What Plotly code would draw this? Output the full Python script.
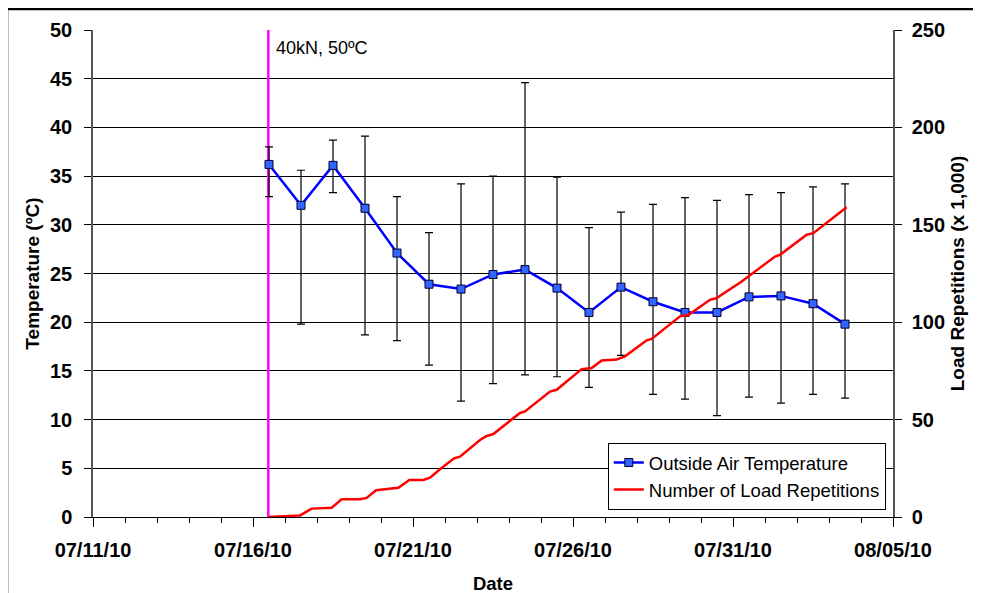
import plotly.graph_objects as go

# Daily outside air temperature (noon of each day)
temp_dates = [
    "2010-07-16 12:00", "2010-07-17 12:00", "2010-07-18 12:00", "2010-07-19 12:00",
    "2010-07-20 12:00", "2010-07-21 12:00", "2010-07-22 12:00", "2010-07-23 12:00",
    "2010-07-24 12:00", "2010-07-25 12:00", "2010-07-26 12:00", "2010-07-27 12:00",
    "2010-07-28 12:00", "2010-07-29 12:00", "2010-07-30 12:00", "2010-07-31 12:00",
    "2010-08-01 12:00", "2010-08-02 12:00", "2010-08-03 12:00",
]
temp_mean = [36.2, 32.0, 36.1, 31.7, 27.1, 23.9, 23.4, 24.9, 25.4, 23.5,
             21.0, 23.6, 22.1, 21.0, 21.0, 22.6, 22.7, 21.9, 19.8]
temp_max = [38.0, 35.6, 38.7, 39.1, 32.9, 29.2, 34.2, 35.0, 44.6, 34.9,
            29.7, 31.3, 32.1, 32.8, 32.5, 33.1, 33.3, 33.9, 34.2]
temp_min = [32.9, 19.8, 33.3, 18.7, 18.1, 15.6, 11.9, 13.7, 14.6, 14.4,
            13.3, 16.6, 12.6, 12.1, 10.4, 12.3, 11.7, 12.6, 12.2]

# Cumulative load repetitions (x 1,000)
load_dates = [
    "2010-07-16 11:30", "2010-07-17 11:15", "2010-07-17 20:00", "2010-07-18 11:00",
    "2010-07-18 18:30", "2010-07-19 08:15", "2010-07-19 13:15", "2010-07-19 20:15",
    "2010-07-20 13:00", "2010-07-20 21:15", "2010-07-21 07:45", "2010-07-21 12:45",
    "2010-07-21 20:15", "2010-07-22 06:45", "2010-07-22 11:15", "2010-07-23 02:15",
    "2010-07-23 07:15", "2010-07-23 12:15", "2010-07-24 08:15", "2010-07-24 12:00",
    "2010-07-25 06:45", "2010-07-25 11:45", "2010-07-26 06:30", "2010-07-26 14:00",
    "2010-07-26 21:30", "2010-07-27 08:45", "2010-07-27 15:00", "2010-07-28 07:15",
    "2010-07-28 11:00", "2010-07-29 08:15", "2010-07-29 14:30", "2010-07-30 06:45",
    "2010-07-30 11:45", "2010-07-31 04:00", "2010-07-31 06:30", "2010-08-01 07:30",
    "2010-08-01 11:15", "2010-08-02 07:15", "2010-08-02 12:15", "2010-08-03 13:15",
]
load_reps = [0.0, 0.8, 4.3, 4.8, 9.1, 9.1, 9.8, 13.7, 15.0, 19.0,
             19.0, 20.2, 24.5, 30.1, 31.0, 39.5, 41.6, 42.6, 53.4, 54.2,
             64.4, 65.3, 75.9, 76.5, 80.3, 80.8, 82.5, 90.7, 91.4, 103.0,
             103.7, 111.5, 112.4, 119.7, 120.9, 133.7, 134.6, 144.9, 145.7, 159.0]

test_start = "2010-07-16 11:30"
test_label = "40kN, 50ºC"

FONT = "Liberation Sans, Arial, sans-serif"
DAY_MS = 86400000

fig = go.Figure()

fig.add_trace(go.Scatter(
    x=temp_dates, y=temp_mean,
    name="Outside Air Temperature",
    mode="lines+markers",
    line=dict(color="#0000FF", width=2.5),
    marker=dict(symbol="square", size=8, color="#3366FF",
                line=dict(color="#000033", width=1)),
    error_y=dict(type="data", symmetric=False,
                 array=[hi - m for hi, m in zip(temp_max, temp_mean)],
                 arrayminus=[m - lo for lo, m in zip(temp_min, temp_mean)],
                 color="#000000", thickness=1.2, width=4),
    yaxis="y",
))

fig.add_trace(go.Scatter(
    x=load_dates, y=load_reps,
    name="Number of Load Repetitions",
    mode="lines",
    line=dict(color="#FF0000", width=2.5),
    yaxis="y2",
))

# test start marker
fig.add_shape(type="line", xref="x", yref="y", layer="between",
              x0=test_start, x1=test_start, y0=0, y1=50,
              line=dict(color="#FF00FF", width=2.5))
fig.add_annotation(x=test_start, y=48.2, xref="x", yref="y",
                   text=test_label, showarrow=False,
                   xanchor="left", xshift=6,
                   font=dict(family=FONT, size=18, color="#000000"))

# outer chart frame
fig.add_shape(type="rect", xref="paper", yref="paper",
              x0=-0.1075, x1=1.15, y0=-0.25, y1=1.043,
              line=dict(color="#000000", width=2.5))

fig.update_layout(
    width=981, height=593,
    margin=dict(l=85, r=96, t=22, b=84, autoexpand=False),
    paper_bgcolor="white", plot_bgcolor="white",
    font=dict(family=FONT, color="#000000"),
    showlegend=True,
    legend=dict(x=0.991, y=0.0144, xanchor="right", yanchor="bottom",
                bgcolor="white", bordercolor="#000000", borderwidth=1,
                font=dict(family=FONT, size=18.5), tracegroupgap=0,
                itemwidth=30),
    xaxis=dict(
        type="date",
        range=["2010-07-11", "2010-08-05"],
        tick0="2010-07-11", dtick=5 * DAY_MS,
        tickformat="%m/%d/%y",
        ticks="outside", ticklen=9, tickcolor="#000000",
        ticklabelstandoff=6,
        showline=True, linecolor="#000000", linewidth=1,
        showgrid=False, zeroline=False,
        tickfont=dict(family=FONT, size=20, weight="bold"),
        minor=dict(dtick=DAY_MS, tick0="2010-07-11", ticks="outside",
                   ticklen=5, tickcolor="#000000", showgrid=False),
        title=dict(text="Date", standoff=17,
                   font=dict(family=FONT, size=18.5, weight="bold")),
    ),
    yaxis=dict(
        range=[0, 50], dtick=5,
        ticks="outside", ticklen=7, tickcolor="#000000",
        ticklabelstandoff=8,
        showline=True, linecolor="#555555", linewidth=1.5,
        showgrid=True, gridcolor="#000000", gridwidth=1,
        zeroline=False,
        tickfont=dict(family=FONT, size=20, weight="bold"),
        title=dict(text="Temperature (ºC)", standoff=5,
                   font=dict(family=FONT, size=19, weight="bold")),
    ),
    yaxis2=dict(
        range=[0, 250], dtick=50,
        overlaying="y", side="right",
        ticks="outside", ticklen=7, tickcolor="#000000",
        ticklabelstandoff=6,
        showline=True, linecolor="#555555", linewidth=1.5,
        showgrid=False, zeroline=False,
        tickfont=dict(family=FONT, size=20, weight="bold"),
        title=dict(text="Load Repetitions (x 1,000)", standoff=7,
                   font=dict(family=FONT, size=19, weight="bold")),
    ),
)

fig.write_html("out.html")
